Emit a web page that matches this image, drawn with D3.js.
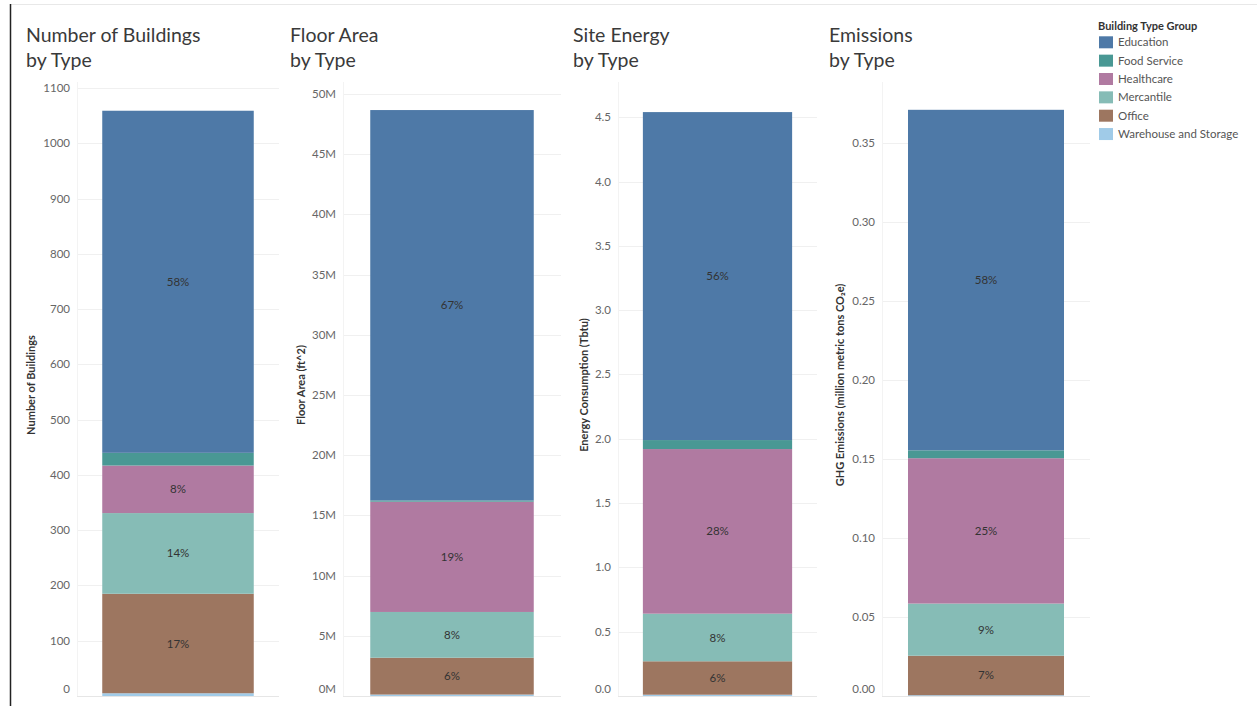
<!DOCTYPE html>
<html>
<head>
<meta charset="utf-8">
<script src="https://cdn.jsdelivr.net/npm/d3@7"></script>
<style>
  body { margin: 0; background: #fff; }
  svg { display: block; font-family: Lato, "Open Sans", sans-serif; }
</style>
</head>
<body>
<div id="chart"></div>
<script>
// Building type groups (legend order) and their colours
const groups = ["Education", "Food Service", "Healthcare", "Mercantile", "Office", "Warehouse and Storage"];
const groupColors = ["#4e79a7", "#499894", "#b07aa1", "#86bcb6", "#9d7660", "#a0cbe8"];

// Values per group, same order as groups
const buildings = [619, 23, 86, 146, 180, 5];
const floorArea = [32.43e6, 0.1e6, 9.16e6, 3.8e6, 3.06e6, 0.12e6];
const siteEnergy = [2.55, 0.07, 1.28, 0.37, 0.26, 0.01];
const emissions = [0.2155, 0.005, 0.092, 0.033, 0.025, 0.0005];

// Tick values per panel
const buildingTicks = [0, 100, 200, 300, 400, 500, 600, 700, 800, 900, 1000, 1100];
const floorTicks = [0, 5e6, 10e6, 15e6, 20e6, 25e6, 30e6, 35e6, 40e6, 45e6, 50e6];
const energyTicks = [0, 0.5, 1, 1.5, 2, 2.5, 3, 3.5, 4, 4.5];
const emissionTicks = [0, 0.05, 0.1, 0.15, 0.2, 0.25, 0.3, 0.35];

const width = 1257, height = 706;
const plotTop = 82, plotBottom = 696;

// Panel layout
const panels = [
    { title: ["Number of Buildings", "by Type"], axisTitle: "Number of Buildings",
      values: buildings, ticks: buildingTicks, max: 1111, fmt: d => d3.format("d")(d),
      titleX: 26, axisTitleX: 31, x0: 77, x1: 279 },
    { title: ["Floor Area", "by Type"], axisTitle: "Floor Area (ft^2)",
      values: floorArea, ticks: floorTicks, max: 51.0e6, fmt: d => (d / 1e6) + "M",
      titleX: 290, axisTitleX: 301, x0: 343, x1: 561 },
    { title: ["Site Energy", "by Type"], axisTitle: "Energy Consumption (Tbtu)",
      values: siteEnergy, ticks: energyTicks, max: 4.774, fmt: d3.format(".1f"),
      titleX: 573, axisTitleX: 584, x0: 618, x1: 817 },
    { title: ["Emissions", "by Type"], axisTitle: "GHG Emissions (million metric tons CO\u2082e)",
      values: emissions, ticks: emissionTicks, max: 0.3886, fmt: d3.format(".2f"),
      titleX: 829, axisTitleX: 840, x0: 882, x1: 1090 }
];

const colorScale = d3.scaleOrdinal().domain(groups).range(groupColors);

const svg = d3.select("#chart").append("svg")
    .attr("width", width)
    .attr("height", height);

// Dashboard frame lines
svg.append("line")
    .attr("x1", 10).attr("x2", width).attr("y1", 4.5).attr("y2", 4.5)
    .attr("stroke", "#e8e8e8");
svg.append("line")
    .attr("x1", 10.5).attr("x2", 10.5).attr("y1", 4).attr("y2", height)
    .attr("stroke", "#222").attr("stroke-width", 1.5);

// Stack bottom-to-top: reverse legend order
const stackKeys = groups.slice().reverse();

panels.forEach(p => {
    const g = svg.append("g");
    const row = {};
    groups.forEach((k, i) => { row[k] = p.values[i]; });
    const total = d3.sum(p.values);
    const series = d3.stack().keys(stackKeys)([row]);

    const y = d3.scaleLinear().domain([0, p.max]).range([plotBottom, plotTop]);
    const x = d3.scaleBand().domain(["all"]).range([p.x0, p.x1])
        .paddingInner(0).paddingOuter(1 / 6);

    // Title
    g.append("text")
        .attr("x", p.titleX).attr("y", 42)
        .attr("font-size", 19.5).attr("fill", "#3a3a3a")
        .selectAll("tspan").data(p.title).enter().append("tspan")
        .attr("x", p.titleX).attr("dy", (d, i) => i === 0 ? 0 : 25)
        .text(d => d);

    // Gridlines
    g.selectAll(".grid").data(p.ticks).enter().append("line")
        .attr("x1", p.x0).attr("x2", p.x1)
        .attr("y1", d => Math.round(y(d)) + 0.5).attr("y2", d => Math.round(y(d)) + 0.5)
        .attr("stroke", d => d === 0 ? "#e6e6e6" : "#f0f0f0");
    g.append("line")
        .attr("x1", p.x0 + 0.5).attr("x2", p.x0 + 0.5)
        .attr("y1", plotTop).attr("y2", plotBottom)
        .attr("stroke", "#f3f3f3");

    // Tick labels (bottom one nudged up like the original)
    g.selectAll(".tick").data(p.ticks).enter().append("text")
        .attr("x", p.x0 - 7)
        .attr("y", d => d === 0 ? y(d) - 7 : y(d))
        .attr("dy", "0.35em")
        .attr("text-anchor", "end")
        .attr("font-size", 11.5).attr("fill", "#666")
        .text(p.fmt);

    // Axis title
    g.append("text")
        .attr("transform", `translate(${p.axisTitleX},385) rotate(-90)`)
        .attr("text-anchor", "middle")
        .attr("dy", "0.35em")
        .attr("font-size", 11).attr("font-weight", 700).attr("fill", "#333")
        .text(p.axisTitle);

    // Stacked segments
    g.selectAll(".seg").data(series).enter().append("rect")
        .attr("x", x("all"))
        .attr("width", x.bandwidth())
        .attr("y", d => y(d[0][1]))
        .attr("height", d => y(d[0][0]) - y(d[0][1]))
        .attr("fill", d => colorScale(d.key));

    // Percentage labels for segments tall enough
    g.selectAll(".pct").data(series.filter(d => y(d[0][0]) - y(d[0][1]) > 18)).enter()
        .append("text")
        .attr("x", x("all") + x.bandwidth() / 2)
        .attr("y", d => (y(d[0][0]) + y(d[0][1])) / 2)
        .attr("dy", "0.35em")
        .attr("text-anchor", "middle")
        .attr("font-size", 11.5).attr("fill", "#333")
        .text(d => Math.round((d[0][1] - d[0][0]) / total * 100) + "%");
});

// Legend
const legend = svg.append("g");
legend.append("text")
    .attr("x", 1098).attr("y", 26).attr("dy", "0.35em")
    .attr("font-size", 11).attr("font-weight", 700).attr("fill", "#333")
    .text("Building Type Group");
const items = legend.selectAll(".item").data(groups).enter().append("g")
    .attr("transform", (d, i) => `translate(1099,${42.3 + i * 18.35})`);
items.append("rect")
    .attr("x", 0).attr("y", -6).attr("width", 14).attr("height", 12)
    .attr("fill", d => colorScale(d));
items.append("text")
    .attr("x", 19).attr("dy", "0.35em")
    .attr("font-size", 11.5).attr("fill", "#555")
    .text(d => d);
</script>
</body>
</html>
